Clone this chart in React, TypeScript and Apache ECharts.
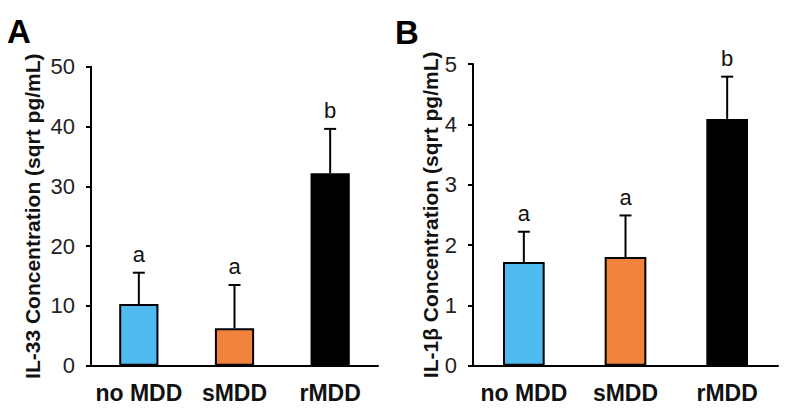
import React, { useEffect, useRef } from "react";
import * as echarts from "echarts";

const categories = ["no MDD", "sMDD", "rMDD"];
const colors = ["#4FBAF0", "#F0843F", "#000000"];
const il33Means = [10.3, 6.25, 32.2];
const il33Errors = [5.25, 7.25, 7.4];
const il33Letters = ["a", "a", "b"];
const il1bMeans = [1.72, 1.8, 4.09];
const il1bErrors = [0.5, 0.69, 0.7];
const il1bLetters = ["a", "a", "b"];
const il33Ticks = { min: 0, max: 50, interval: 10 };
const il1bTicks = { min: 0, max: 5, interval: 1 };

const FONT = '"Liberation Sans", Arial, Helvetica, sans-serif';

function errData(means: number[], errs: number[]) {
  return means.map((m, i) => [i, m, errs[i]]);
}

function makeRenderErr(letters: string[]) {
  return (params: any, api: any) => {
    const idx = api.value(0);
    const m = api.value(1);
    const e = api.value(2);
    const letter = letters[params.dataIndex] ?? "";
    const base = api.coord([idx, m]);
    const top = api.coord([idx, m + e]);
    const cap = 6;
    return {
      type: "group",
      children: [
        { type: "line", shape: { x1: base[0], y1: base[1], x2: top[0], y2: top[1] }, style: { stroke: "#000", lineWidth: 2 } },
        { type: "line", shape: { x1: top[0] - cap, y1: top[1], x2: top[0] + cap, y2: top[1] }, style: { stroke: "#000", lineWidth: 2 } },
        { type: "text", x: top[0], y: top[1] - 18, style: { text: letter, fill: "#111", font: `22px ${FONT}`, align: "center", verticalAlign: "middle" } },
      ],
    };
  };
}

export default function App() {
  const ref = useRef<HTMLDivElement>(null);
  useEffect(() => {
    if (!ref.current) return;
    const chart = echarts.init(ref.current, null, { renderer: "svg" });
    const xAxisCommon = {
      type: "category" as const,
      data: categories,
      axisLine: { lineStyle: { color: "#000", width: 2 } },
      axisTick: { show: false },
      axisLabel: { color: "#111", fontSize: 23, fontWeight: "bold" as const, fontFamily: FONT, margin: 16, interval: 0, hideOverlap: false },
    };
    const yAxisCommon = {
      type: "value" as const,
      nameLocation: "middle" as const,
      nameRotate: 90,
      nameTextStyle: { color: "#111", fontSize: 21, fontWeight: "bold" as const, fontFamily: FONT },
      axisLine: { show: true, lineStyle: { color: "#000", width: 2 } },
      axisTick: { show: true, length: 5, lineStyle: { color: "#000", width: 2 } },
      axisLabel: { color: "#222", fontSize: 22, fontFamily: FONT, margin: 16 },
      splitLine: { show: false },
    };
    const barSeries = (means: number[], axis: number) => ({
      type: "bar" as const,
      xAxisIndex: axis,
      yAxisIndex: axis,
      barWidth: "41%",
      data: means.map((v, i) => ({ value: v, itemStyle: { color: colors[i], borderColor: "#000", borderWidth: 2 } })),
    });
    chart.setOption({
      animation: false,
      backgroundColor: "#fff",
      grid: [
        { left: 91, right: 422, top: 66.7, bottom: 49.3 },
        { left: 473, right: 22, top: 64, bottom: 49.3 },
      ],
      xAxis: [
        { ...xAxisCommon, gridIndex: 0 },
        { ...xAxisCommon, gridIndex: 1 },
      ],
      yAxis: [
        { ...yAxisCommon, gridIndex: 0, ...il33Ticks, name: "IL-33 Concentration (sqrt pg/mL)", nameGap: 48 },
        { ...yAxisCommon, gridIndex: 1, ...il1bTicks, name: "IL-1β Concentration (sqrt pg/mL)", nameGap: 30 },
      ],
      series: [
        barSeries(il33Means, 0),
        barSeries(il1bMeans, 1),
        { type: "custom", xAxisIndex: 0, yAxisIndex: 0, renderItem: makeRenderErr(il33Letters), data: errData(il33Means, il33Errors), z: 5 },
        { type: "custom", xAxisIndex: 1, yAxisIndex: 1, renderItem: makeRenderErr(il1bLetters), data: errData(il1bMeans, il1bErrors), z: 5 },
      ],
      graphic: [
        { type: "text", left: 7, top: 15, style: { text: "A", fill: "#000", font: `bold 33px ${FONT}` } },
        { type: "text", left: 395, top: 16, style: { text: "B", fill: "#000", font: `bold 33px ${FONT}` } },
      ],
    });
    return () => chart.dispose();
  }, []);
  return <div ref={ref} style={{ width: 800, height: 415, position: "absolute", left: 0, top: 0 }} />;
}
